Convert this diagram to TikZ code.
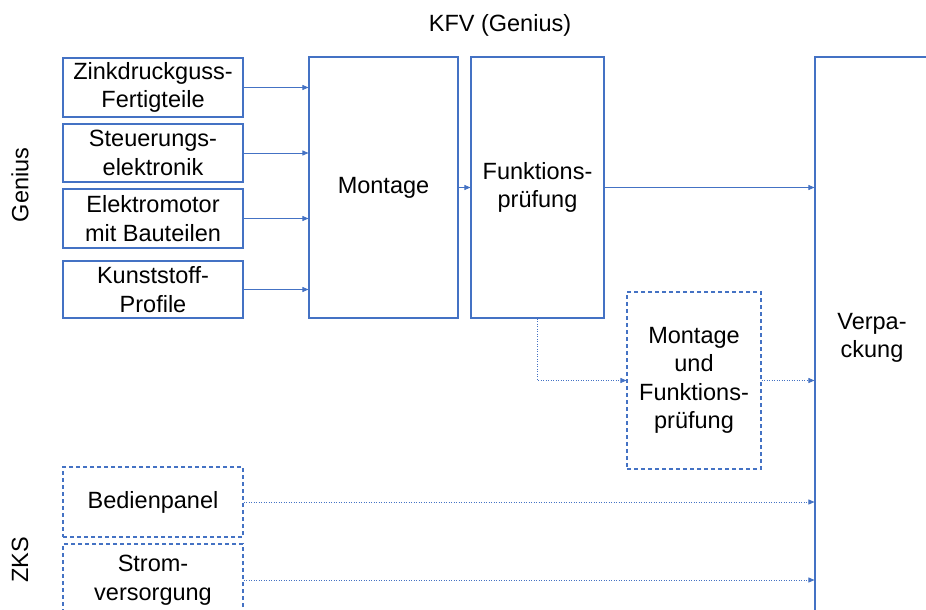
\documentclass[tikz,border=0pt]{standalone}
\usepackage{fontspec}
\setmainfont{Liberation Sans}
\usepackage{xcolor}
\usetikzlibrary{positioning, arrows.meta, shapes}
\definecolor{kfvblue}{HTML}{4472C4}

\begin{document}
\begin{tikzpicture}[x=1pt, y=-1pt,
        txt/.style={font=\fontsize{23.5}{28.5}\selectfont},
        box/.style={txt, draw=kfvblue, line width=1.1pt, align=center, inner sep=0pt},
        dbox/.style={box, dash pattern=on 4pt off 3pt},
        flow/.style={kfvblue, line width=0.8pt, -{Triangle[length=6pt,width=5pt]}},
        dflow/.style={flow, dash pattern=on 1pt off 1.5pt}]
    \clip (0,0) rectangle (926,610);

    % --- Titles ---
    \node[txt] (kfv) at (500,25) {KFV (Genius)};
    \node[txt, rotate=90] (genius) at (20,185) {Genius};
    \node[txt, rotate=90] (zks) at (20,560) {ZKS};

    % --- Parts from Genius ---
    \foreach \n/\y/\h/\t in {zink/87.5/59/{Zinkdruckguss-\\Fertigteile},
                             steuer/153/58/{Steuerungs-\\elektronik},
                             motor/218.5/59/{Elektromotor\\mit Bauteilen},
                             profil/289.5/57/{Kunststoff-\\Profile}}
        \node[box, minimum width=180pt, minimum height=\h pt] (\n) at (153,\y) {\t};

    % --- Process steps ---
    \node[box, minimum width=149pt, minimum height=261pt] (montage) at (383.5,187.5) {Montage};
    \node[box, minimum width=133pt, minimum height=261pt] (funk) at (537.5,187.5) {Funktions-\\prüfung};
    \node[dbox, minimum width=134pt, minimum height=177pt] (muf) at (694,380.5) {Montage\\und\\Funktions-\\prüfung};
    \node[box, minimum width=114pt, minimum height=562pt] (verp) at (872,338) {Verpa-\\ckung};

    % --- Parts from ZKS ---
    \node[dbox, minimum width=180pt, minimum height=70pt] (bedien) at (153,502) {Bedienpanel};
    \node[dbox, minimum width=180pt, minimum height=72pt] (strom) at (153,580) {Strom-\\versorgung};

    % --- Connectors ---
    \foreach \n in {zink,steuer,motor,profil}
        \draw[flow] (\n.east) -- (\n.east -| montage.west);
    \draw[flow] (montage) -- (funk);
    \draw[flow] (funk.east) -- (funk.east -| verp.west);
    \draw[dflow] (funk.south) |- (muf.west);
    \draw[dflow] (muf.east) -- (muf.east -| verp.west);
    \foreach \n in {bedien,strom}
        \draw[dflow] (\n.east) -- (\n.east -| verp.west);
\end{tikzpicture}
\end{document}
